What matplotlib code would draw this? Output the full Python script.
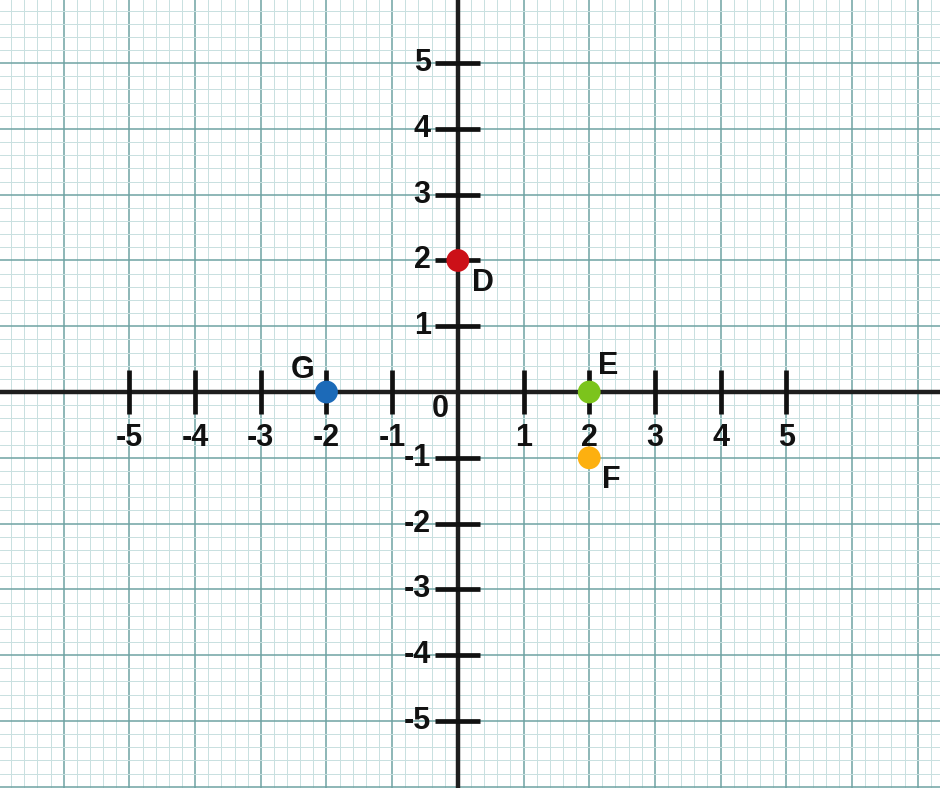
import numpy as np
import matplotlib
matplotlib.use('Agg')
import matplotlib.pyplot as plt

# tick values and labelled points
X_TICKS=[-5,-4,-3,-2,-1,1,2,3,4,5]
Y_TICKS=[-5,-4,-3,-2,-1,1,2,3,4,5]
PT_NAMES=['D','E','F','G']
PT_X=[0,2,2,-2]
PT_Y=[2,0,-1,0]
PT_COLORS=['#cc1018','#7cc41c','#fdb010','#1c6ab8']
PT_OFFS=[(18,-16),(14,19),(16,-16),(-17,16)]   # label offset in points

FONT=dict(family='Liberation Sans',fontweight='bold',fontsize=22,color='#111111')
AX_COL='#1e1e1e'

fig=plt.figure(figsize=(9.4,7.88),dpi=100)
ax=fig.add_axes([0,0,1,1])
ax.set_xlim(-6.97,7.34); ax.set_ylim(-6.02,5.96)
ax.axis('off')

# graph paper
for v in np.arange(-7,7.6,0.2):
    major=abs(v-round(v))<1e-6
    ax.axvline(v,color='#6fa3a3' if major else '#c8e0e0',lw=1.1 if major else 0.7,zorder=0)
for v in np.arange(-6.2,6.2,0.2):
    major=abs(v-round(v))<1e-6
    ax.axhline(v,color='#6fa3a3' if major else '#c8e0e0',lw=1.1 if major else 0.7,zorder=0)

# axes + ticks
ax.axhline(0,color=AX_COL,lw=3.2,zorder=2)
ax.axvline(0,color=AX_COL,lw=3.2,zorder=2)
for x in X_TICKS:
    ax.plot([x,x],[-0.33,0.33],color='#111111',lw=3.4,solid_capstyle='butt',zorder=2)
    ax.text(x,-0.7,str(x),ha='center',va='center',**FONT)
for y in Y_TICKS:
    ax.plot([-0.35,0.33],[y,y],color='#111111',lw=3.4,solid_capstyle='butt',zorder=2)
    ax.annotate(str(y),(-0.35,y),xytext=(-3,0),textcoords='offset points',ha='right',va='center',**FONT)
ax.annotate('0',(0,0),xytext=(-13,-12),textcoords='offset points',ha='center',va='center',**FONT)

# points
ax.scatter(PT_X,PT_Y,s=270,c=PT_COLORS,zorder=3,linewidths=0)
for n,x,y,o in zip(PT_NAMES,PT_X,PT_Y,PT_OFFS):
    ax.annotate(n,(x,y),xytext=o,textcoords='offset points',ha='center',va='center',**FONT)

fig.savefig('out.png',dpi=100,facecolor='white')
